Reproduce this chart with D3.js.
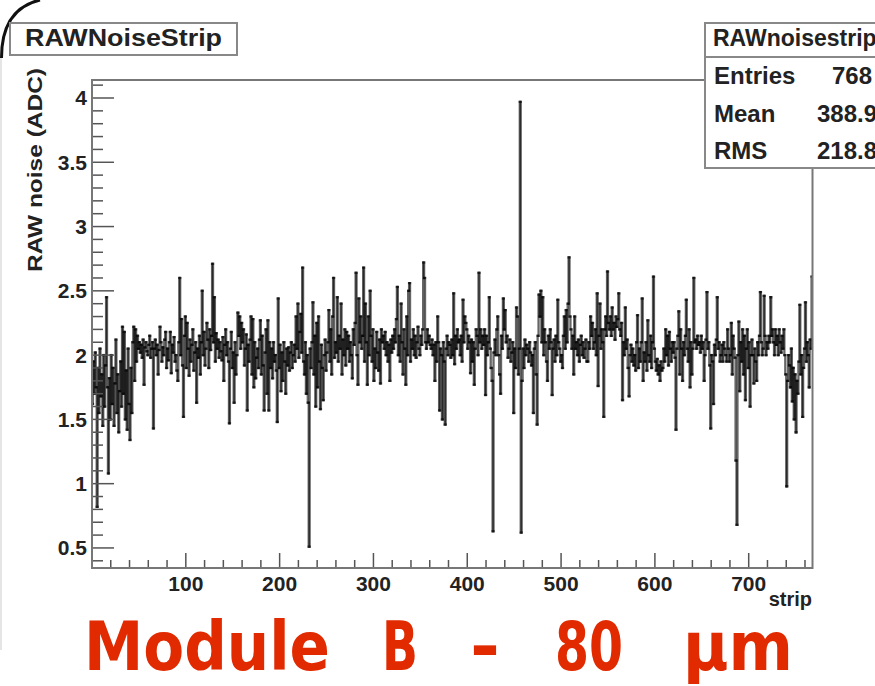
<!DOCTYPE html>
<html>
<head>
<meta charset="utf-8">
<script src="https://cdn.jsdelivr.net/npm/d3@7"></script>
<style>
html, body { margin: 0; padding: 0; background: #fff; }
svg { display: block; }
</style>
</head>
<body>
<svg id="chart" width="875" height="686"></svg>
<script>
// RAW noise per strip (ADC), 768 strips
const noise = [
  1.62, 1.95, 1.70, 2.02, 1.75, 0.82, 1.90, 1.55, 2.05, 1.68, 1.85, 1.45, 2.00, 1.60, 1.92, 2.45,
  1.75, 1.08, 1.82, 1.50, 2.00, 1.62, 1.90, 1.45, 1.78, 2.12, 1.55, 1.85, 1.40, 1.72, 1.95, 1.60,
  2.22, 1.70, 2.18, 1.50, 1.88, 1.42, 2.05, 1.62, 1.34, 1.90, 1.55, 2.10, 2.22, 1.80, 2.20, 1.95,
  2.15, 2.05, 2.10, 2.02, 2.08, 1.98, 2.12, 1.77, 2.06, 2.10, 2.03, 2.00, 2.08, 2.15, 1.98, 2.05,
  2.10, 1.43, 2.05, 2.12, 2.00, 2.08, 1.85, 2.04, 2.22, 2.10, 1.95, 2.06, 2.00, 2.12, 2.18, 1.90,
  2.05, 1.96, 2.10, 2.18, 1.86, 2.08, 2.02, 2.14, 1.95, 2.00, 1.88, 1.80, 2.10, 2.60, 2.00, 2.28,
  1.92, 1.52, 2.15, 2.30, 1.90, 2.25, 2.05, 1.84, 2.12, 1.95, 2.08, 2.20, 1.88, 2.02, 2.10, 1.63,
  2.05, 1.98, 2.15, 1.85, 2.10, 2.50, 2.00, 2.18, 1.92, 2.05, 2.25, 2.12, 1.90, 2.20, 2.04, 2.15,
  2.71, 2.10, 2.45, 1.95, 2.17, 2.05, 2.12, 1.98, 2.10, 2.03, 1.96, 2.14, 1.80, 2.08, 2.20, 2.00,
  2.10, 1.95, 1.47, 2.05, 2.18, 1.90, 2.02, 1.63, 2.10, 1.85, 2.00, 2.33, 2.15, 2.30, 2.05, 2.25,
  2.10, 2.20, 1.92, 2.05, 2.16, 1.57, 2.08, 1.95, 2.12, 2.30, 1.85, 2.28, 1.75, 2.10, 1.82, 1.98,
  2.05, 1.90, 2.12, 2.27, 1.85, 2.15, 1.92, 1.57, 2.02, 2.20, 1.70, 2.27, 1.57, 2.10, 1.90, 2.05,
  1.82, 2.10, 1.95, 2.00, 1.88, 1.48, 2.44, 1.90, 2.08, 1.72, 2.02, 1.80, 2.10, 1.95, 1.70, 2.05,
  1.92, 2.06, 1.88, 2.02, 2.10, 1.90, 2.00, 2.08, 1.95, 2.30, 2.05, 2.40, 1.98, 2.18, 2.32, 2.02,
  2.68, 1.95, 1.85, 2.10, 1.70, 2.00, 1.63, 0.51, 2.05, 1.90, 2.10, 2.41, 1.85, 2.15, 1.60, 2.25,
  1.75, 2.30, 1.95, 1.58, 2.08, 1.90, 1.65, 2.00, 2.12, 1.88, 2.02, 2.10, 2.35, 1.95, 2.20, 1.85,
  2.30, 2.60, 1.98, 2.10, 2.02, 2.45, 1.95, 2.15, 2.05, 2.40, 1.85, 2.12, 2.00, 2.20, 1.92, 2.18,
  2.05, 2.15, 1.95, 2.10, 2.00, 1.82, 2.20, 2.08, 2.25, 2.64, 2.00, 1.77, 2.44, 2.10, 2.30, 2.05,
  2.15, 2.68, 1.95, 2.40, 2.10, 1.77, 2.30, 2.00, 2.50, 2.15, 1.95, 2.20, 1.80, 2.05, 1.90, 2.18,
  2.02, 1.88, 2.12, 1.78, 2.20, 2.10, 2.15, 2.05, 2.18, 2.00, 2.10, 1.95, 2.08, 1.80, 2.12, 2.02,
  2.15, 2.05, 2.20, 2.10, 2.28, 2.53, 2.00, 2.15, 1.95, 2.40, 2.10, 1.85, 2.20, 2.05, 1.77, 2.30,
  2.00, 2.50, 2.56, 1.95, 2.12, 2.05, 2.20, 2.00, 2.15, 1.98, 2.10, 2.22, 2.05, 2.00, 2.15, 2.08,
  2.20, 2.72, 2.60, 2.10, 2.05, 2.20, 2.10, 2.15, 2.08, 2.05, 2.12, 2.00, 2.08, 1.80, 2.10, 1.95,
  2.30, 2.10, 1.57, 2.05, 2.00, 1.50, 2.10, 1.95, 1.46, 2.05, 2.15, 2.00, 2.10, 2.08, 1.98, 2.12,
  2.00, 2.48, 1.93, 2.15, 2.05, 2.20, 2.10, 2.12, 2.00, 2.15, 1.95, 2.43, 2.10, 2.30, 2.25, 2.20,
  2.05, 2.15, 2.10, 1.86, 2.12, 1.95, 2.10, 1.77, 2.05, 2.20, 2.15, 2.00, 2.64, 2.10, 2.20, 2.05,
  2.15, 2.08, 2.20, 1.69, 2.15, 2.00, 2.10, 2.45, 2.05, 1.90, 1.80, 0.63, 2.02, 2.12, 2.00, 2.20,
  2.30, 2.00, 1.85, 1.70, 2.15, 2.05, 2.44, 2.20, 2.35, 2.10, 2.15, 1.98, 2.05, 2.12, 1.95, 2.02,
  2.10, 1.55, 2.05, 1.90, 2.37, 2.30, 1.85, 2.05, 3.97, 0.62, 1.80, 2.05, 1.90, 2.12, 2.00, 2.08,
  2.05, 1.95, 2.10, 2.02, 1.92, 2.00, 1.55, 2.05, 2.10, 1.85, 1.46, 2.15, 2.47, 2.30, 2.50, 2.10,
  2.45, 2.00, 2.20, 2.10, 1.95, 1.80, 2.15, 2.05, 2.20, 2.10, 1.69, 2.05, 2.12, 1.95, 2.15, 2.00,
  2.43, 2.10, 2.05, 1.95, 2.00, 1.90, 2.15, 2.30, 2.05, 2.35, 2.10, 2.40, 2.76, 2.30, 2.20, 2.05,
  2.15, 1.85, 2.30, 2.05, 2.10, 2.00, 2.12, 1.95, 2.08, 2.15, 2.00, 2.10, 1.98, 2.05, 2.12, 1.95,
  1.95, 2.10, 2.05, 2.30, 2.15, 2.25, 2.05, 2.10, 2.20, 2.00, 2.48, 1.76, 2.15, 2.40, 2.05, 2.20,
  2.10, 1.52, 2.20, 2.30, 2.15, 2.65, 2.25, 2.20, 2.30, 2.15, 2.37, 2.20, 2.25, 2.12, 2.30, 2.22,
  2.28, 2.48, 2.20, 2.15, 2.25, 1.65, 2.10, 2.00, 2.37, 2.05, 2.12, 1.90, 1.68, 2.00, 2.08, 1.95,
  2.05, 1.92, 2.00, 1.88, 2.10, 2.31, 1.90, 2.05, 1.95, 2.10, 2.44, 1.80, 2.02, 1.95, 2.10, 1.88,
  2.27, 2.00, 1.95, 2.15, 1.90, 2.10, 2.61, 2.05, 1.95, 1.88, 1.97, 1.85, 1.92, 1.80, 1.95, 1.88,
  1.90, 2.05, 1.95, 2.20, 2.00, 2.15, 1.92, 2.18, 2.05, 1.95, 2.10, 2.02, 2.10, 1.98, 1.42, 2.05,
  2.15, 2.34, 1.85, 2.20, 2.05, 1.80, 2.10, 2.00, 2.15, 2.43, 2.05, 1.95, 2.20, 1.75, 2.10, 1.85,
  2.05, 2.60, 2.10, 2.12, 2.05, 2.15, 2.08, 2.10, 2.02, 2.15, 2.05, 2.10, 1.80, 2.00, 2.12, 2.49,
  2.05, 2.10, 1.92, 1.43, 2.00, 1.95, 1.62, 2.08, 2.00, 2.12, 2.45, 2.05, 2.10, 1.95, 2.00, 2.08,
  1.95, 2.10, 2.05, 2.00, 1.95, 2.20, 2.05, 1.95, 2.00, 2.25, 1.85, 2.15, 2.05, 1.98, 1.18, 0.68,
  2.00, 2.26, 1.72, 2.10, 1.95, 2.20, 1.85, 2.15, 1.65, 2.05, 2.20, 1.90, 2.10, 1.60, 2.00, 2.12,
  2.00, 1.78, 2.05, 1.95, 1.80, 2.10, 2.00, 2.15, 2.49, 2.10, 2.00, 2.05, 2.46, 2.15, 2.00, 2.10,
  2.05, 2.15, 2.10, 2.45, 2.15, 2.20, 2.10, 2.00, 2.20, 2.08, 2.15, 2.00, 2.20, 2.10, 2.02, 2.15,
  2.05, 2.20, 2.00, 1.85, 0.98, 1.80, 2.00, 1.92, 1.75, 2.05, 1.64, 1.90, 1.50, 1.85, 1.40, 1.80,
  1.70, 1.95, 2.39, 1.85, 2.00, 1.52, 1.90, 2.05, 2.41, 1.95, 2.10, 2.00, 1.75, 2.12, 2.05, 2.61
];

const xMajor = [100, 200, 300, 400, 500, 600, 700];
const yMajor = [0.5, 1, 1.5, 2, 2.5, 3, 3.5, 4];
const histTitle = "RAWNoiseStrip";
const statName = "RAWnoisestrip";
const statLabels = ["Entries", "Mean", "RMS"];
const statValues = ["768", "388.9", "218.8"];
const caption = ["Module", "B", "-", "80", "\u03bcm"];

const svg = d3.select("#chart");
const frame = { left: 92, right: 812.5, top: 80, bottom: 568 };
const font = "'Liberation Sans', Arial, Helvetica, sans-serif";

const x = d3.scaleLinear().domain([0, noise.length]).range([frame.left, frame.right]);
const y = d3.scaleLinear().domain([0.344, 4.14]).range([frame.bottom, frame.top]);

// slide corner / border remnants
svg.append("path")
  .attr("d", "M1.5,58 C1.5,25 14,6 40,0")
  .attr("fill", "none")
  .attr("stroke", "#111")
  .attr("stroke-width", 3);
svg.append("line")
  .attr("x1", 1).attr("x2", 1).attr("y1", 58).attr("y2", 650)
  .attr("stroke", "#ddd").attr("stroke-width", 1.5);

svg.append("clipPath").attr("id", "frameClip")
  .append("rect")
  .attr("x", frame.left).attr("y", frame.top)
  .attr("width", frame.right - frame.left)
  .attr("height", frame.bottom - frame.top);

// histogram drawn as separate step segments, so overlapping strokes darken
// like the downsampled ROOT picture (black where dense, gray where single)
const segs = [];
noise.forEach((v, i) => {
  segs.push({ x1: i, x2: i + 1, y1: v, y2: v });
  if (i < noise.length - 1) segs.push({ x1: i + 1, x2: i + 1, y1: v, y2: noise[i + 1] });
});

svg.append("g")
  .attr("clip-path", "url(#frameClip)")
  .selectAll("line").data(segs).enter().append("line")
  .attr("x1", d => x(d.x1)).attr("x2", d => x(d.x2))
  .attr("y1", d => y(d.y1)).attr("y2", d => y(d.y2))
  .attr("stroke", "#000")
  .attr("stroke-opacity", 0.6)
  .attr("stroke-width", 2.3)
  .attr("stroke-linecap", "square");

// axes: ROOT style ticks pointing into the frame
const tickColor = "#555";
const xAxis = svg.append("g");
const xMinor = d3.range(0, noise.length + 1, 20);
xAxis.selectAll("line.minor").data(xMinor).enter().append("line")
  .attr("x1", d => x(d)).attr("x2", d => x(d))
  .attr("y1", frame.bottom)
  .attr("y2", d => frame.bottom - (d % 100 === 0 ? 15 : 8))
  .attr("stroke", tickColor).attr("stroke-width", 1.5);
xAxis.selectAll("text").data(xMajor).enter().append("text")
  .attr("x", d => x(d)).attr("y", 591)
  .attr("text-anchor", "middle")
  .attr("font-family", font).attr("font-weight", "bold")
  .attr("font-size", 21).attr("fill", "#222")
  .text(d => d);

const yAxis = svg.append("g");
const yMinor = d3.range(4, 42).map(d => d / 10);
yAxis.selectAll("line").data(yMinor).enter().append("line")
  .attr("x1", frame.left)
  .attr("x2", d => frame.left + (Math.round(d * 10) % 5 === 0 ? 22 : 11))
  .attr("y1", d => y(d)).attr("y2", d => y(d))
  .attr("stroke", tickColor).attr("stroke-width", 1.5);
yAxis.selectAll("text").data(yMajor).enter().append("text")
  .attr("x", 87).attr("y", d => y(d) + 7.5)
  .attr("text-anchor", "end")
  .attr("font-family", font).attr("font-weight", "bold")
  .attr("font-size", 21).attr("fill", "#222")
  .text(d => d);

svg.append("rect")
  .attr("x", frame.left).attr("y", frame.top)
  .attr("width", frame.right - frame.left)
  .attr("height", frame.bottom - frame.top)
  .attr("fill", "none")
  .attr("stroke", "#777").attr("stroke-width", 2);

// axis titles
svg.append("text")
  .attr("transform", "translate(42,68) rotate(-90)")
  .attr("text-anchor", "end")
  .attr("font-family", font).attr("font-weight", "bold")
  .attr("font-size", 21).attr("fill", "#222")
  .attr("textLength", 204).attr("lengthAdjust", "spacingAndGlyphs")
  .text("RAW noise (ADC)");
svg.append("text")
  .attr("x", 812).attr("y", 606)
  .attr("text-anchor", "end")
  .attr("font-family", font).attr("font-weight", "bold")
  .attr("font-size", 20).attr("fill", "#222")
  .text("strip");

// title box
svg.append("rect")
  .attr("x", 10).attr("y", 23).attr("width", 227).attr("height", 32)
  .attr("fill", "#fff").attr("stroke", "#888").attr("stroke-width", 2);
svg.append("text")
  .attr("x", 25).attr("y", 46)
  .attr("font-family", font).attr("font-weight", "bold")
  .attr("font-size", 24).attr("fill", "#222")
  .attr("textLength", 197).attr("lengthAdjust", "spacingAndGlyphs")
  .text(histTitle);

// stats box (runs off the right edge, as in the original screenshot)
const stats = svg.append("g");
stats.append("rect")
  .attr("x", 705).attr("y", 23).attr("width", 200).attr("height", 145)
  .attr("fill", "#fff").attr("stroke", "#888").attr("stroke-width", 2);
stats.append("line")
  .attr("x1", 705).attr("x2", 875).attr("y1", 57).attr("y2", 57)
  .attr("stroke", "#888").attr("stroke-width", 2);
stats.append("text")
  .attr("x", 713).attr("y", 46)
  .attr("font-family", font).attr("font-weight", "bold")
  .attr("font-size", 23).attr("fill", "#222")
  .text(statName);
const rowY = [84, 122, 159];
stats.selectAll("text.lab").data(statLabels).enter().append("text")
  .attr("class", "lab")
  .attr("x", 714).attr("y", (d, i) => rowY[i])
  .attr("font-family", font).attr("font-weight", "bold")
  .attr("font-size", 24).attr("fill", "#222")
  .text(d => d);
stats.selectAll("text.val").data(statValues).enter().append("text")
  .attr("class", "val")
  .attr("x", (d, i) => i === 0 ? 832 : 817).attr("y", (d, i) => rowY[i])
  .attr("font-family", font).attr("font-weight", "bold")
  .attr("font-size", 24).attr("fill", "#222")
  .text(d => d);

// red caption
const capX = [[84, 246], [382, 36], [470, 30], [555, 68], [683, 110]];
svg.selectAll("text.cap").data(caption).enter().append("text")
  .attr("class", "cap")
  .attr("x", (d, i) => capX[i][0]).attr("y", 670)
  .attr("font-family", "'DejaVu Sans', sans-serif").attr("font-weight", "bold")
  .attr("font-size", 68).attr("fill", "#e12a00")
  .attr("textLength", (d, i) => capX[i][1]).attr("lengthAdjust", "spacingAndGlyphs")
  .text(d => d);
</script>
</body>
</html>
